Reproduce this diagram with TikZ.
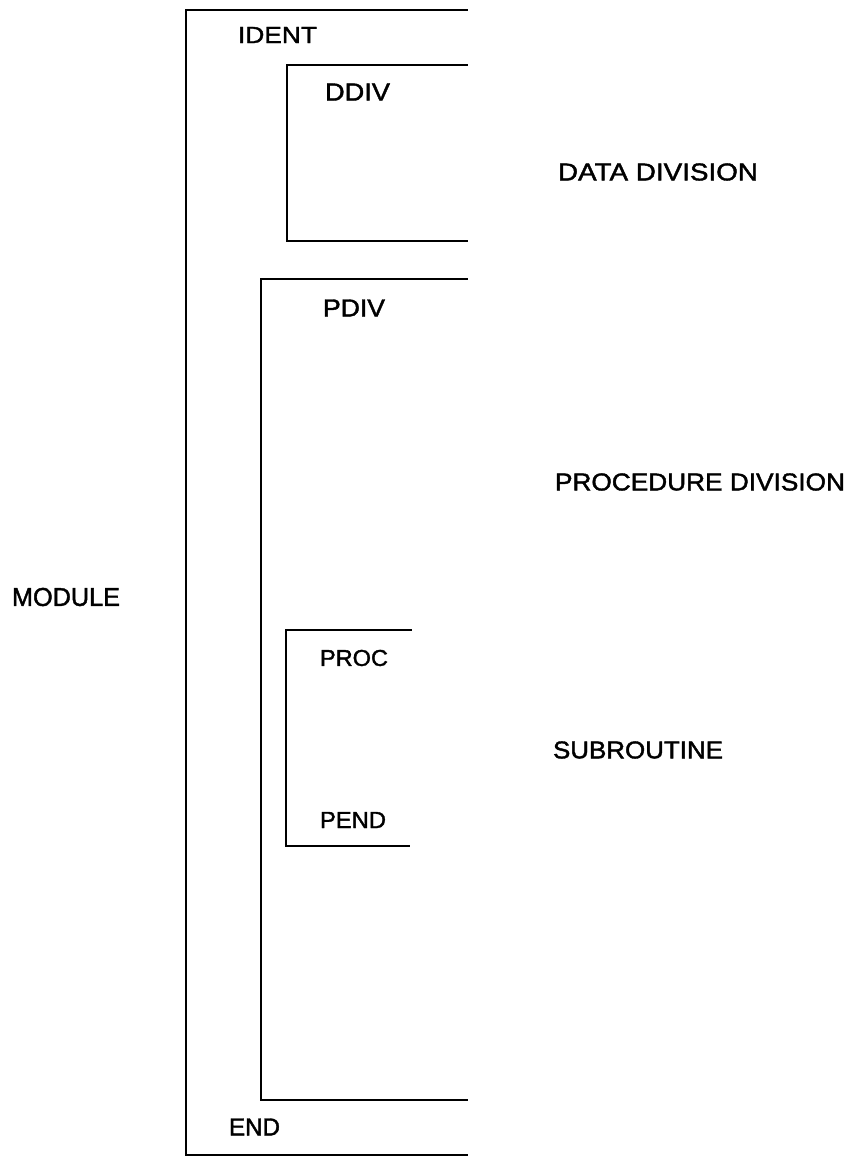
\documentclass[tikz,border=0pt]{standalone}
\usepackage{fontspec}
\usepackage{graphicx}
\newfontfamily\lblfont[FakeBold=1.6]{Liberation Sans}
\newcommand{\lblbox}[3]{\resizebox{#1pt}{#2pt}{\lblfont #3}}
\begin{document}
\begin{tikzpicture}[x=1pt,y=-1pt,
  bracket/.style={line width=2.6pt,line cap=rect,line join=miter},
  lbl/.style={anchor=west,inner sep=0pt,outer sep=0pt}]
\useasboundingbox (0,0) rectangle (851,1157);
% bracket corners
\coordinate (mTop) at (467,10);
\coordinate (mBot) at (467,1155);
\coordinate (mL) at (186,0);
\coordinate (dTop) at (467,65);
\coordinate (dBot) at (467,241);
\coordinate (dL) at (287,0);
\coordinate (pTop) at (467,279);
\coordinate (pBot) at (467,1100);
\coordinate (pL) at (261,0);
\coordinate (sTop) at (411,630);
\coordinate (sBot) at (409,846);
\coordinate (sL) at (286,0);
% brackets
\draw[bracket] (mTop) -- (mTop -| mL) -- (mBot -| mL) -- (mBot);
\draw[bracket] (dTop) -- (dTop -| dL) -- (dBot -| dL) -- (dBot);
\draw[bracket] (pTop) -- (pTop -| pL) -- (pBot -| pL) -- (pBot);
\draw[bracket] (sTop) -- (sTop -| sL) -- (sBot -| sL) -- (sBot);
% labels
\node[lbl] (ident) at (238,35) {\lblbox{79}{16}{IDENT}};
\node[lbl] (ddiv) at (325,92) {\lblbox{65}{17}{DDIV}};
\node[lbl] (datadiv) at (558,172) {\lblbox{200}{17}{DATA DIVISION}};
\node[lbl] (pdiv) at (323,308) {\lblbox{62}{17}{PDIV}};
\node[lbl] (procdiv) at (555,482) {\lblbox{290}{17}{PROCEDURE DIVISION}};
\node[lbl] (module) at (12,597) {\lblbox{108}{18}{MODULE}};
\node[lbl] (proc) at (320,658) {\lblbox{68}{16}{PROC}};
\node[lbl] (subr) at (553,750) {\lblbox{170}{17}{SUBROUTINE}};
\node[lbl] (pend) at (320,820) {\lblbox{66}{16}{PEND}};
\node[lbl] (endl) at (229,1127) {\lblbox{51}{17}{END}};
\end{tikzpicture}
\end{document}
